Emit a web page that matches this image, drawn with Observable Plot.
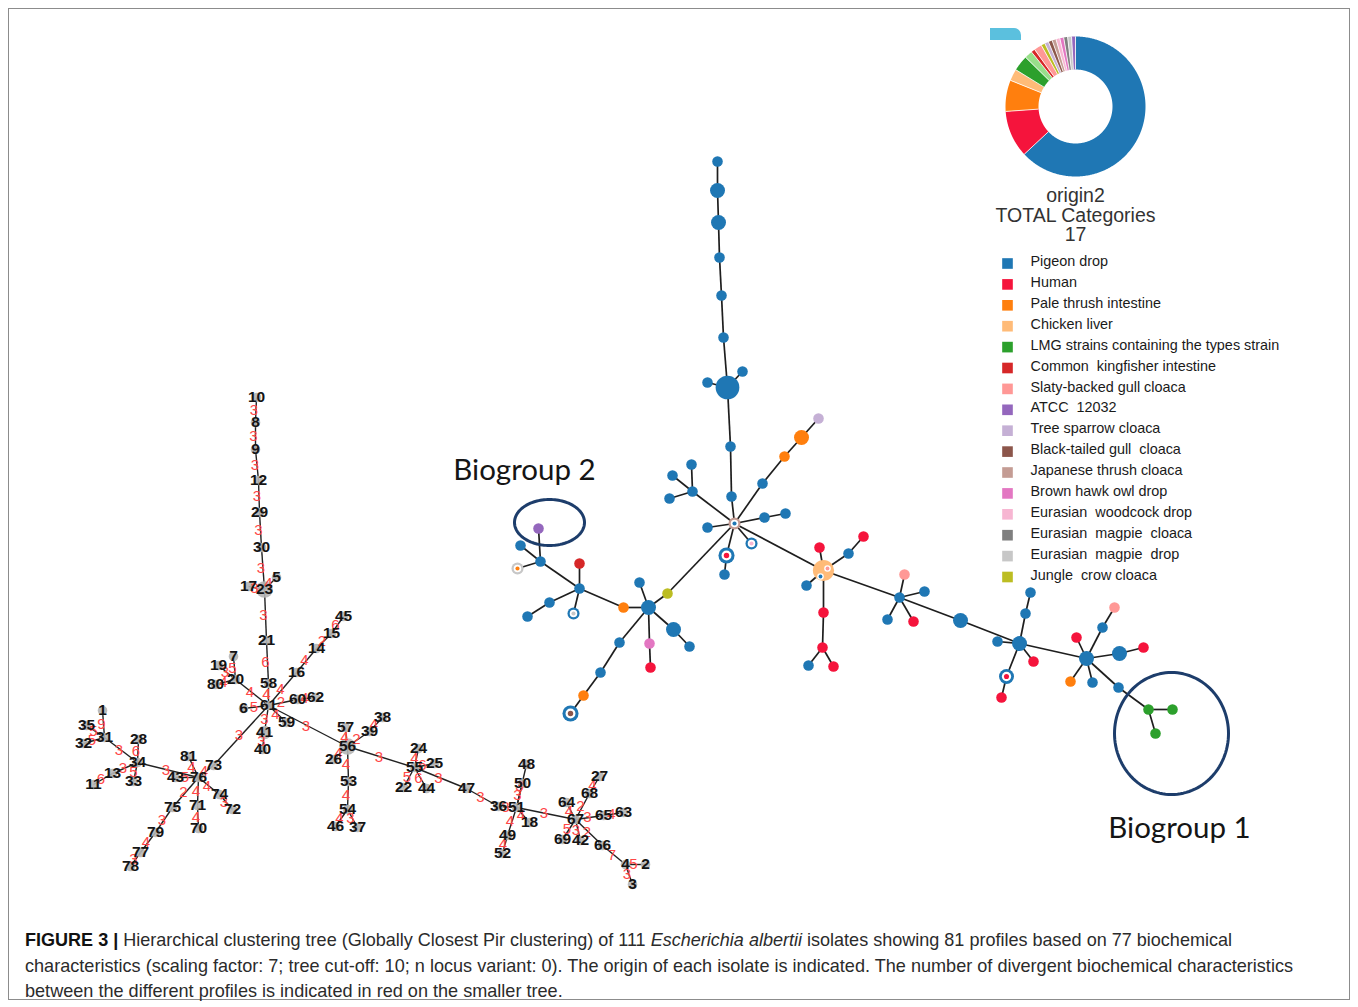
<!DOCTYPE html>
<html><head><meta charset="utf-8">
<script src="https://cdn.jsdelivr.net/npm/d3@7"></script>
<script src="https://cdn.jsdelivr.net/npm/@observablehq/plot@0.6"></script>
<style>
body{margin:0;background:#fff;width:1358px;height:1007px;position:relative;overflow:hidden;font-family:"Liberation Sans",Arial,sans-serif}
#frame{position:absolute;left:8px;top:8px;width:1342px;height:992px;border:1px solid #8c8c8c;box-sizing:border-box}
#chart{position:absolute;left:0;top:0}
#tag{position:absolute;left:990px;top:28px;width:31px;height:12px;background:#5bc0de;border-radius:0 7px 0 0}
#caption{position:absolute;left:25px;top:927px;font-family:"Liberation Sans",Arial,sans-serif;font-size:18.5px;line-height:25.5px;color:#2b2b2b;white-space:nowrap}
#caption .ln{display:block;width:max-content;transform-origin:0 50%}
#caption b{color:#111}
</style></head>
<body>
<div id="frame"></div>
<div id="chart"></div>
<div id="tag"></div>
<div id="caption"><span class="ln" data-w="1207"><b>FIGURE 3 |</b> Hierarchical clustering tree (Globally Closest Pir clustering) of 111 <i>Escherichia albertii</i> isolates showing 81 profiles based on 77 biochemical</span><span class="ln" data-w="1268">characteristics (scaling factor: 7; tree cut-off: 10; n locus variant: 0). The origin of each isolate is indicated. The number of divergent biochemical characteristics</span><span class="ln">between the different profiles is indicated in red on the smaller tree.</span></div>
<script>
// ---------- categories (origins) ----------
const originKeys = ["pigeon","human","pale","chicken","lmg","kingfisher","slaty","atcc","sparrow","blacktail","japanese","hawk","woodcock","magpieC","magpieD","crow","lmg2"];
const originNames = ["Pigeon drop","Human","Pale thrush intestine","Chicken liver","LMG strains containing the types strain","Common  kingfisher intestine","Slaty-backed gull cloaca","ATCC  12032","Tree sparrow cloaca","Black-tailed gull  cloaca","Japanese thrush cloaca","Brown hawk owl drop","Eurasian  woodcock drop","Eurasian  magpie  cloaca","Eurasian  magpie  drop","Jungle  crow cloaca",""];
const originColors = ["#1f77b4","#f5143c","#ff7f0e","#ffbb78","#2ca02c","#d62728","#ff9896","#9467bd","#c5b0d5","#8c564b","#c49c94","#e377c2","#f7b6d2","#7f7f7f","#c7c7c7","#bcbd22","#98df8a"];
const originCounts = [70,12,8,3,4,1,2,1,1,1,1,1,1,1,1,1,2];
const donutOrder = ["pigeon","human","pale","chicken","lmg","lmg2","kingfisher","slaty","crow","sparrow","blacktail","japanese","woodcock","hawk","magpieC","magpieD","atcc"];
const legendKeys = originKeys.slice(0,16);

// ---------- right (coloured) tree : id, x, y, origin, isolates, inner origin ----------
const rightNodes = [
 ["R1",717,161,"pigeon",1],["R2",717,190,"pigeon",2],["R3",718,222,"pigeon",2],["R4",719,257,"pigeon",1],
 ["R5",721,295,"pigeon",1],["R6",723,337,"pigeon",1],["R7",727,387,"pigeon",5],["R7a",707,382,"pigeon",1],
 ["R7b",742,371,"pigeon",1],["R8",730,446,"pigeon",1],["R9",731,496,"pigeon",1],["H1",734,523,"japanese",1.3,"pigeon"],
 ["O1",762,483,"pigeon",1],["O2",784,456,"pale",1],["O3",801,437,"pale",2],["O4",818,418,"sparrow",1],
 ["B1",764,517,"pigeon",1],["B2",785,513,"pigeon",1],["B3",707,527,"pigeon",1],
 ["C1",692,491,"pigeon",1],["C2",672,475,"pigeon",1],["C3",691,464,"pigeon",1],["C4",669,498,"pigeon",1],
 ["K1",751,543,"pigeon",1.3,"woodcock"],["K2",726,555,"pigeon",2.3,"human"],["K3",724,574,"pigeon",1],
 ["YG",667,593,"crow",1],["H2",648,607,"pigeon",2],["P1",639,582,"pigeon",1],["P2",673,629,"pigeon",2],
 ["P3",689,646,"pigeon",1],["P4",649,643,"hawk",1],["P5",650,667,"human",1],["P6",619,642,"pigeon",1],
 ["P7",600,672,"pigeon",1],["P8",583,695,"pale",1],["P9",570,713,"pigeon",2.3,"blacktail"],["OR1",623,607,"pale",1],
 ["H3",579,588,"pigeon",1],["Q1",579,563,"kingfisher",1],["Q2",573,613,"pigeon",1.3,"magpieD"],["Q3",549,602,"pigeon",1],
 ["Q4",527,616,"pigeon",1],["H4",540,561,"pigeon",1],["Q5",538,528,"atcc",1],["Q6",520,545,"pigeon",1],
 ["Q7",517,568,"magpieD",1.3,"pale"],["H5",823,570,"chicken",4],["S1",819,547,"human",1],["S2",848,553,"pigeon",1],
 ["S3",863,536,"human",1],["S4",806,585,"pigeon",1],["S5",823,612,"human",1],["S6",822,647,"human",1],
 ["S7",808,665,"pigeon",1],["S8",833,666,"human",1],["H6",899,597,"pigeon",1],["T1",904,574,"slaty",1],
 ["T2",924,591,"pigeon",1],["T3",887,619,"pigeon",1],["T4",913,621,"human",1],["T5",960,620,"pigeon",2],
 ["H7",1019,643,"pigeon",2],["U1",997,641,"pigeon",1],["U2",1025,613,"pigeon",1],["U3",1030,592,"pigeon",1],
 ["U4",1033,661,"human",1],["U5",1006,676,"pigeon",2,"human"],["U6",1001,697,"human",1],["H8",1086,658,"pigeon",2],
 ["V1",1076,637,"human",1],["V2",1102,627,"pigeon",1],["V3",1114,607,"slaty",1],["V4",1119,653,"pigeon",2],
 ["V5",1143,647,"human",1],["V6",1070,681,"pale",1],["V7",1092,682,"pigeon",1],["V8",1118,687,"pigeon",1],
 ["G1",1148,709,"lmg",1],["G2",1172,709,"lmg",1],["G3",1155,733,"lmg",1]
];
// mixed-origin chicken-liver node: extra inner origins
const mixedInner = [["H5","slaty",4,-2],["H5","pigeon",-3,6]];
const rightEdges = [
 ["R1","R2"],["R2","R3"],["R3","R4"],["R4","R5"],["R5","R6"],["R6","R7"],["R7","R7a"],["R7","R7b"],["R7","R8"],["R8","R9"],["R9","H1"],
 ["H1","O1"],["O1","O2"],["O2","O3"],["O3","O4"],["H1","B1"],["B1","B2"],["H1","B3"],["H1","C1"],["C1","C2"],["C1","C3"],["C1","C4"],
 ["H1","K1"],["H1","K2"],["K2","K3"],["H1","YG"],["YG","H2"],["H2","P1"],["H2","P2"],["P2","P3"],["H2","P4"],["P4","P5"],
 ["H2","P6"],["P6","P7"],["P7","P8"],["P8","P9"],["H2","OR1"],["OR1","H3"],["H3","Q1"],["H3","Q2"],["H3","Q3"],["Q3","Q4"],
 ["H3","H4"],["H4","Q5"],["H4","Q6"],["H4","Q7"],["H1","H5"],["H5","S1"],["H5","S2"],["S2","S3"],["H5","S4"],["H5","S5"],
 ["S5","S6"],["S6","S7"],["S6","S8"],["H5","H6"],["H6","T1"],["H6","T2"],["H6","T3"],["H6","T4"],["H6","T5"],["T5","H7"],
 ["H7","U1"],["H7","U2"],["U2","U3"],["H7","U4"],["H7","U5"],["U5","U6"],["H7","H8"],["H8","V1"],["H8","V2"],["V2","V3"],
 ["H8","V4"],["V4","V5"],["H8","V6"],["H8","V7"],["H8","V8"],["V8","G1"],["G1","G2"],["G1","G3"]
];

// ---------- left (profile) tree : profile id, x, y, isolates ----------
const leftNodes = [
 [10,256,397,1],[8,255,422,1],[9,255,449,1],[12,258,480,1],[29,259,512,1],[30,261,547,1],[23,264,589,3],[17,248,586,1],
 [5,276,577,1],[21,266,640,1],[58,268,683,1],[61,268,705,1],[20,235,679,1],[7,233,656,1],[19,218,665,1],[80,215,684,1],
 [16,296,672,1],[14,316,648,1],[15,331,633,1],[45,343,616,1],[6,243,708,1],[60,297,699,1],[62,315,697,1],[59,286,722,1],
 [41,264,732,2],[40,262,749,1],[73,213,765,1],[76,198,777,1],[81,188,756,1],[43,175,777,1],[34,137,762,1],[28,138,739,1],
 [33,133,781,1],[31,104,737,1],[1,102,710,1],[35,86,725,1],[32,83,743,1],[13,112,773,1],[11,93,784,1],[74,219,794,1],
 [72,232,809,1],[71,197,805,1],[70,198,828,1],[75,172,807,1],[79,155,832,1],[77,140,852,1],[78,130,866,1],
 [56,347,746,3],[57,345,727,1],[39,369,731,1],[38,382,717,1],[26,333,759,1],[53,348,781,1],[54,347,809,1],[46,335,826,1],
 [37,357,827,1],[55,414,767,1],[24,418,748,1],[25,434,763,1],[22,403,787,1],[44,426,788,1],[47,466,788,1],[36,498,806,1],
 [51,516,807,1],[48,526,764,1],[50,522,783,1],[18,529,822,1],[49,507,835,1],[52,502,853,1],[67,575,819,1],[64,566,802,1],
 [68,589,793,1],[27,599,776,1],[65,603,815,1],[63,623,812,1],[69,562,839,1],[42,580,840,1],[66,602,845,1],[4,625,864,1],
 [2,645,864,1],[3,632,884,1]
];
// edges: from, to, number of divergent characteristics
const leftEdges = [
 [10,8,3],[8,9,3],[9,12,3],[12,29,3],[29,30,3],[30,23,3],[23,17,3],[23,5,4],[23,21,3],[21,58,6],[58,61,4],[20,61,4],
 [7,20,5],[19,20,3],[80,20,4],[16,61,4],[14,16,4],[15,14,2],[45,15,6],[6,61,5],[60,61,2],[62,60,4],[59,61,4],[41,61,3],
 [40,41,3],[61,56,3],[61,73,3],[73,76,4],[81,76,4],[43,76,5],[34,76,3],[28,34,6],[33,34,5],[31,34,3],[1,31,9],[35,31,5],
 [32,31,5],[13,34,3],[11,13,6],[75,76,2],[79,75,3],[77,79,4],[78,77,3],[71,76,4],[70,71,4],[74,76,4],[72,74,3],
 [56,57,4],[56,39,2],[39,38,4],[56,26,4],[56,53,4],[53,54,4],[54,46,4],[54,37,3],[56,55,3],[55,24,4],[55,25,6],[55,22,5],
 [55,44,6],[55,47,3],[47,36,3],[36,51,3],[51,48,3],[51,50,3],[51,18,4],[51,49,4],[49,52,4],[51,67,3],[67,64,4],[67,68,2],
 [68,27,4],[67,65,3],[65,63,4],[67,69,5],[67,42,3],[67,66,2],[66,4,7],[4,2,5],[4,3,3]
];

// ---------- annotations ----------
const groups = [
 {label:"Biogroup 2", cx:549, cy:522, rx:35, ry:23, tx:524, ty:470},
 {label:"Biogroup 1", cx:1171, cy:733, rx:57, ry:61, tx:1179, ty:828}
];
const donut = {cx:1075, cy:106, r0:37, r1:70};
const donutTitle = ["origin2","TOTAL Categories"];

// ---------- build ----------
const rN = rightNodes.map(([id,x,y,origin,n,inner])=>({id,x,y,origin,n,inner}));
const byId = new Map(rN.map(d=>[d.id,d]));
const rL = rightEdges.map(([a,b])=>({a:byId.get(a),b:byId.get(b)}));
const lN = leftNodes.map(([id,x,y,n])=>({id,x,y,n}));
const lById = new Map(lN.map(d=>[d.id,d]));
const lL = leftEdges.map(([a,b,w])=>({a:lById.get(a),b:lById.get(b),w}));
const rad = n => 5.3*Math.sqrt(n);

const total = d3.sum(originCounts);
const rm = (donut.r0+donut.r1)/2;
let acc = 0; const arcPts = [], seps = [];
donutOrder.forEach(k=>{
  const v = originCounts[originKeys.indexOf(k)];
  const a0 = acc/total*2*Math.PI, a1 = (acc+v)/total*2*Math.PI; acc += v;
  const n = Math.max(2, Math.ceil((a1-a0)/0.01));
  for (let j=0;j<=n;j++){const a=a0+(a1-a0)*j/n; arcPts.push({origin:k,x:donut.cx+rm*Math.sin(a),y:donut.cy-rm*Math.cos(a)});}
  seps.push({x1:donut.cx+donut.r0*Math.sin(a0),y1:donut.cy-donut.r0*Math.cos(a0),x2:donut.cx+donut.r1*Math.sin(a0),y2:donut.cy-donut.r1*Math.cos(a0)});
});
const ellPts = [];
groups.forEach(g=>{for(let j=0;j<120;j++){const a=j/120*2*Math.PI; ellPts.push({g:g.label,x:g.cx+g.rx*Math.cos(a),y:g.cy+g.ry*Math.sin(a)});}});
const legend = legendKeys.map((k,i)=>({k,name:originNames[originKeys.indexOf(k)],i}));
const legY = i => 261 + i*20.9;
const inners = rN.filter(d=>d.inner);
const mixed = mixedInner.map(([id,o,dx,dy])=>({x:byId.get(id).x+dx,y:byId.get(id).y+dy,origin:o}));

const FONT = "'Liberation Sans', Arial, sans-serif";
const W = 1358, H = 915;
const chart = Plot.plot({
  width: W, height: H, margin: 0,
  x: {domain:[0,W], range:[0,W], axis:null},
  y: {domain:[0,H], range:[0,H], axis:null},
  r: {type:"identity"},
  color: {domain: originKeys, range: originColors},
  style: {background:"transparent", fontFamily:FONT, overflow:"visible"},
  marks: [
    // left tree
    Plot.link(lL, {x1:d=>d.a.x, y1:d=>d.a.y, x2:d=>d.b.x, y2:d=>d.b.y, stroke:"#222", strokeWidth:1.4}),
    Plot.dot(lN, {x:"x", y:"y", r:d=>4.8*Math.sqrt(d.n), fill:"#b5b5b5", fillOpacity:0.9}),
    Plot.text(lL, {x:d=>(d.a.x+d.b.x)/2 - 2, y:d=>(d.a.y+d.b.y)/2, text:"w", fill:"#ff4646", fontSize:15, fontFamily:FONT}),
    Plot.text(lN, {x:"x", y:"y", text:"id", fill:"#141414", fontSize:15.5, fontWeight:"bold", fontFamily:FONT}),
    // right tree
    Plot.link(rL, {x1:d=>d.a.x, y1:d=>d.a.y, x2:d=>d.b.x, y2:d=>d.b.y, stroke:"#1e1e1e", strokeWidth:1.7}),
    Plot.dot(rN, {x:"x", y:"y", r:d=>rad(d.n), fill:"origin"}),
    Plot.dot(inners, {x:"x", y:"y", r:d=>rad(d.n)*0.62, fill:"white"}),
    Plot.dot(inners, {x:"x", y:"y", r:d=>rad(d.n)*0.34, fill:"inner"}),
    Plot.dot(mixed, {x:"x", y:"y", r:3.3, fill:"white"}),
    Plot.dot(mixed, {x:"x", y:"y", r:1.9, fill:"origin"}),
    // biogroups
    Plot.line(ellPts, {x:"x", y:"y", z:"g", stroke:"#1d3d6b", strokeWidth:3, curve:"linear-closed"}),
    Plot.text(groups, {x:"tx", y:"ty", text:"label", fontSize:29.5, fontFamily:"Lato, 'Open Sans', sans-serif", fill:"#151515"}),
    // donut
    Plot.line(arcPts, {x:"x", y:"y", z:"origin", stroke:"origin", strokeWidth:donut.r1-donut.r0, strokeLinecap:"butt", strokeLinejoin:"round"}),
    Plot.link(seps, {x1:"x1", y1:"y1", x2:"x2", y2:"y2", stroke:"white", strokeWidth:0.8}),
    Plot.text([donutTitle.concat([String(originKeys.length)]).join("\n")], {x:[donut.cx], y:[215], text:d=>d, fontSize:19.5, lineHeight:1, fill:"#333", fontFamily:FONT}),
    // legend
    Plot.dot(legend, {x:1007, y:d=>legY(d.i)+2, symbol:"square", r:6, fill:"k"}),
    Plot.text(legend, {x:1030, y:d=>legY(d.i), text:"name", textAnchor:"start", fontSize:14.4, fill:"#1a1a1a", fontFamily:FONT})
  ]
});
document.getElementById("chart").append(chart);

// fit caption lines to the reference widths
const lines = [...document.querySelectorAll("#caption .ln")];
let lastScale = 1;
lines.forEach(el=>{
  const natural = el.getBoundingClientRect().width;
  const target = +el.dataset.w;
  const s = target ? target/natural : lastScale;
  el.style.transform = `scaleX(${s})`;
  lastScale = s;
});
</script>
</body></html>
